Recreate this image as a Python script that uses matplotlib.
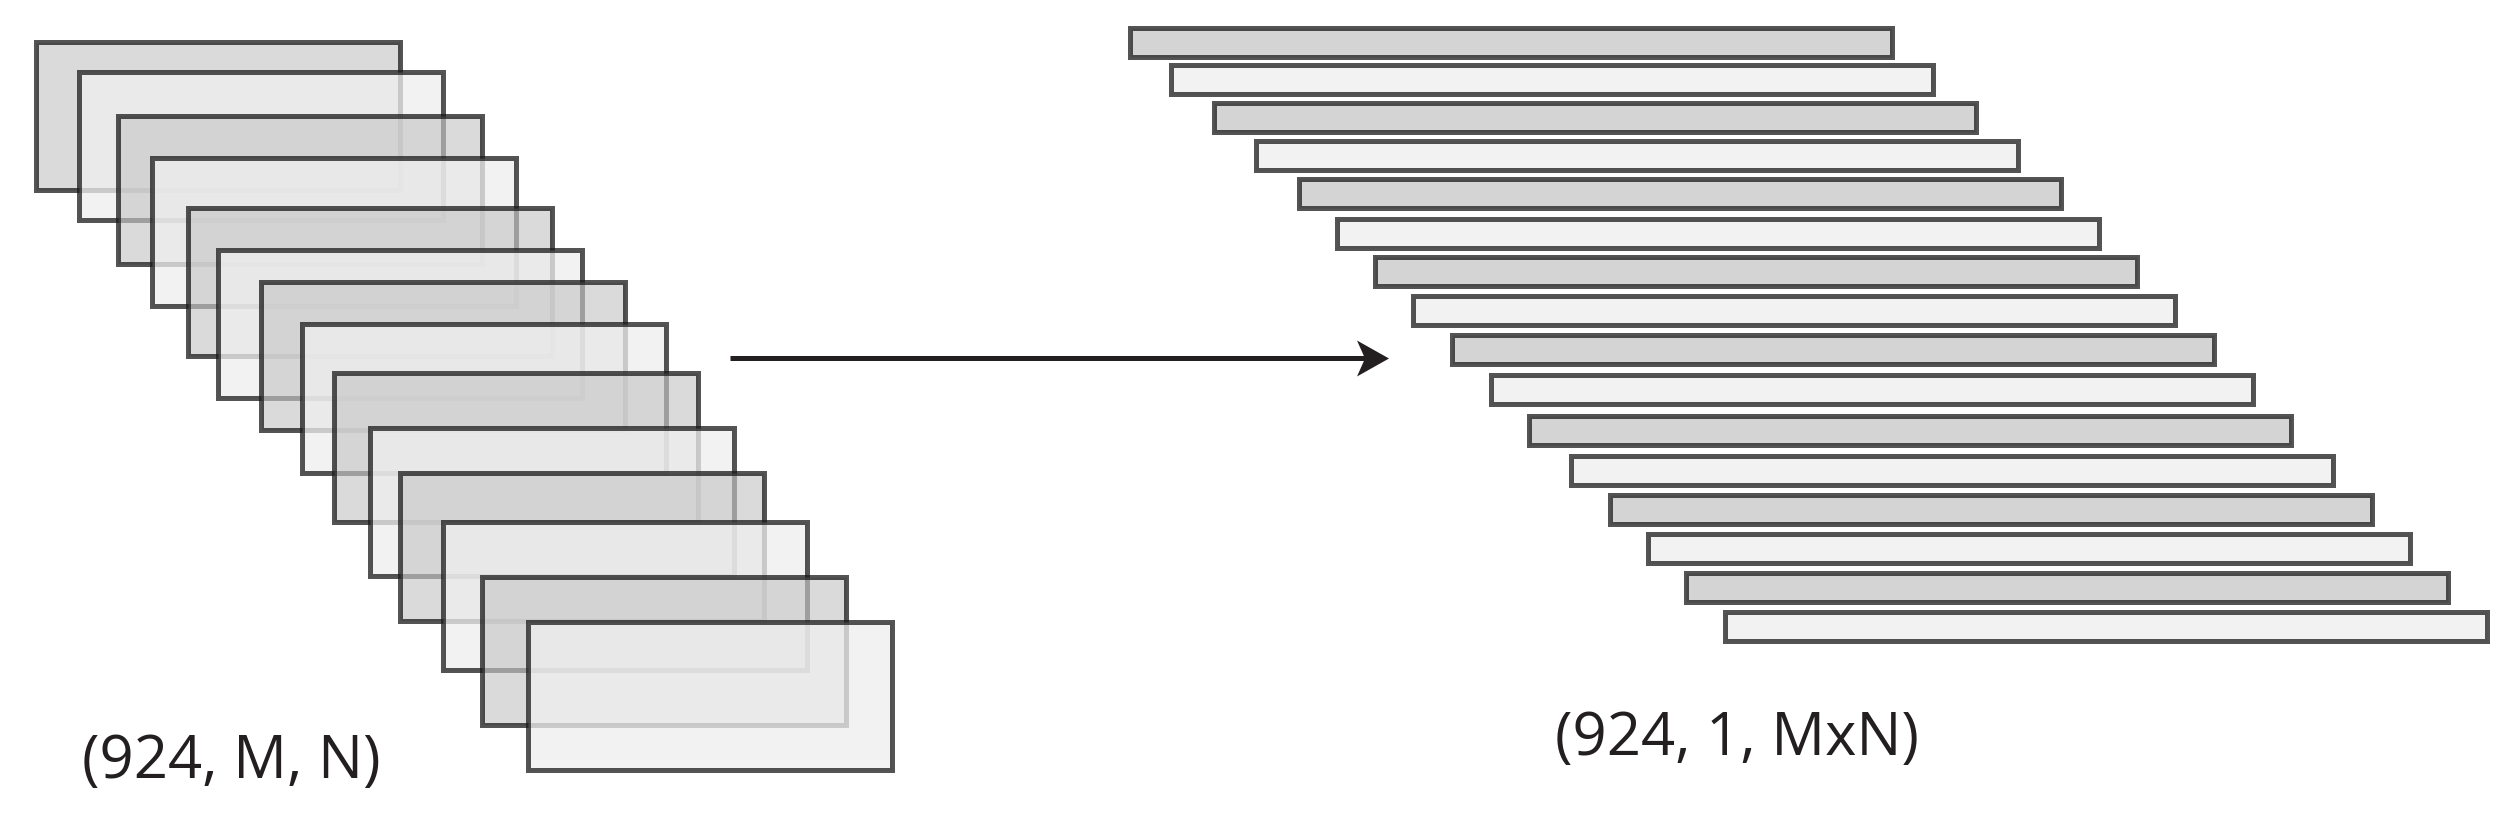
import matplotlib
matplotlib.use('Agg')
from matplotlib import pyplot
from matplotlib.patches import Rectangle, Polygon

# stack of 2-D frames (outer box, pixels)
frame_left = [33, 76, 115, 149, 185, 215, 258, 299, 331, 367, 397, 440, 479, 525]
frame_top = [40, 70, 114, 156, 205, 247, 279, 322, 371, 425, 470, 519, 574, 619]

# flattened rows (outer box, pixels)
row_left = [1127, 1168, 1211, 1253, 1296, 1334, 1372, 1410,
            1449, 1488, 1526, 1568, 1607, 1645, 1683, 1722]
row_top = [26, 63, 101, 139, 177, 216, 254, 293,
           333, 373, 413, 453, 492, 531, 570, 609]

labels = ['(924, M, N)', '(924, 1, MxN)']

W, H = 2520, 813
LW = 5          # edge width in pixels
EDGE = (0.094, 0.094, 0.094, 0.74)
DARK = (0.78, 0.78, 0.78, 0.66)
LIGHT = (0.937, 0.937, 0.937, 0.77)
INK = '#231f20'


def _box(ax, left, top, width, height, face):
    '''Draws one box given its outer edges.'''
    half = LW / 2.0
    ax.add_patch(Rectangle((left + half, top + half), width - LW, height - LW,
                           facecolor=face, edgecolor=EDGE,
                           linewidth=LW * 72.0 / 100))


def main():
    '''main method.'''
    fig = pyplot.figure(figsize=(W / 100.0, H / 100.0), dpi=100)
    ax = fig.add_axes([0, 0, 1, 1])
    ax.set_xlim(0, W)
    ax.set_ylim(H, 0)
    ax.axis('off')

    for i, (x, y) in enumerate(zip(frame_left, frame_top)):
        _box(ax, x, y, 369, 153, DARK if i % 2 == 0 else LIGHT)

    for i, (x, y) in enumerate(zip(row_left, row_top)):
        _box(ax, x, y, 767, 34, (0.83, 0.83, 0.83) if i % 2 == 0
             else (0.949, 0.949, 0.949))

    # arrow
    ay = 358.5
    ax.plot([730, 1366], [ay, ay], color=INK, lw=LW * 72.0 / 100,
            solid_capstyle='butt')
    ax.add_patch(Polygon([(1389, ay), (1357, ay - 18), (1365, ay),
                          (1357, ay + 18)], closed=True,
                         facecolor=INK, edgecolor='none'))

    ax.text(82, 778, labels[0], family=['Open Sans', 'DejaVu Sans'],
            fontsize=43, color=INK, ha='left', va='baseline')
    ax.text(1555, 755, labels[1], family=['Open Sans', 'DejaVu Sans'],
            fontsize=43, color=INK, ha='left', va='baseline')

    fig.savefig('out.png', dpi=100, facecolor='white')


if __name__ == '__main__':
    main()
